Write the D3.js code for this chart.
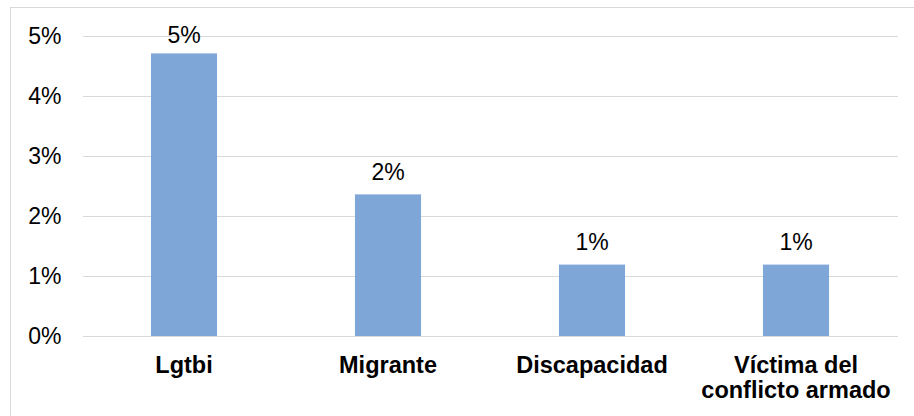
<!DOCTYPE html>
<html>
<head>
<meta charset="utf-8">
<script src="https://cdn.jsdelivr.net/npm/d3@7"></script>
<style>
  html, body { margin: 0; padding: 0; background: #fff; }
  svg { display: block; font-family: "Liberation Sans", Arial, sans-serif; }
</style>
</head>
<body>
<svg id="chart" width="914" height="416"></svg>
<script>
const categories = ["Lgtbi", "Migrante", "Discapacidad", "Víctima del\nconflicto armado"];
const values = [0.0471, 0.0236, 0.0119, 0.0119];
const dataLabels = ["5%", "2%", "1%", "1%"];
const yTicks = [0, 0.01, 0.02, 0.03, 0.04, 0.05];

const svg = d3.select("#chart");

// outer frame
svg.append("rect")
  .attr("x", 10.5).attr("y", 7.5)
  .attr("width", 1000).attr("height", 1000)
  .attr("fill", "none").attr("stroke", "#d9d9d9").attr("stroke-width", 1);

const y = d3.scaleLinear().domain([0, 0.05]).range([336, 36]);
const x = d3.scaleBand().domain(categories).range([82, 898])
  .paddingInner(0.676).paddingOuter(0.338);

// gridlines
svg.append("g").selectAll("line").data(yTicks).join("line")
  .attr("x1", 83).attr("x2", 898)
  .attr("y1", d => Math.round(y(d)) + 0.5).attr("y2", d => Math.round(y(d)) + 0.5)
  .attr("stroke", "#d9d9d9").attr("stroke-width", 1);

// y tick labels
const fmt = d3.format(".0%");
svg.append("g").selectAll("text").data(yTicks).join("text")
  .attr("x", 61.5).attr("y", d => y(d))
  .attr("dy", "0.355em")
  .attr("text-anchor", "end")
  .attr("font-size", 23)
  .attr("fill", "#000")
  .text(d => fmt(d));

// bars
svg.append("g").selectAll("rect").data(values).join("rect")
  .attr("x", (d, i) => x(categories[i]))
  .attr("width", x.bandwidth())
  .attr("y", d => y(d))
  .attr("height", d => y(0) - y(d))
  .attr("fill", "#7ea6d6");

// data labels
svg.append("g").selectAll("text").data(values).join("text")
  .attr("x", (d, i) => x(categories[i]) + x.bandwidth() / 2)
  .attr("y", d => Math.max(y(d) - 14.5, 43.3))
  .attr("text-anchor", "middle")
  .attr("font-size", 23)
  .attr("fill", "#000")
  .text((d, i) => dataLabels[i]);

// category labels
const cat = svg.append("g").selectAll("text").data(categories).join("text")
  .attr("text-anchor", "middle")
  .attr("font-size", 23.5)
  .attr("font-weight", "bold")
  .attr("fill", "#000");
cat.each(function(d) {
  const lines = d.split("\n");
  const t = d3.select(this);
  lines.forEach((ln, j) => {
    t.append("tspan")
      .attr("x", x(d) + x.bandwidth() / 2)
      .attr("y", 373.3 + j * 25)
      .text(ln);
  });
});
</script>
</body>
</html>
